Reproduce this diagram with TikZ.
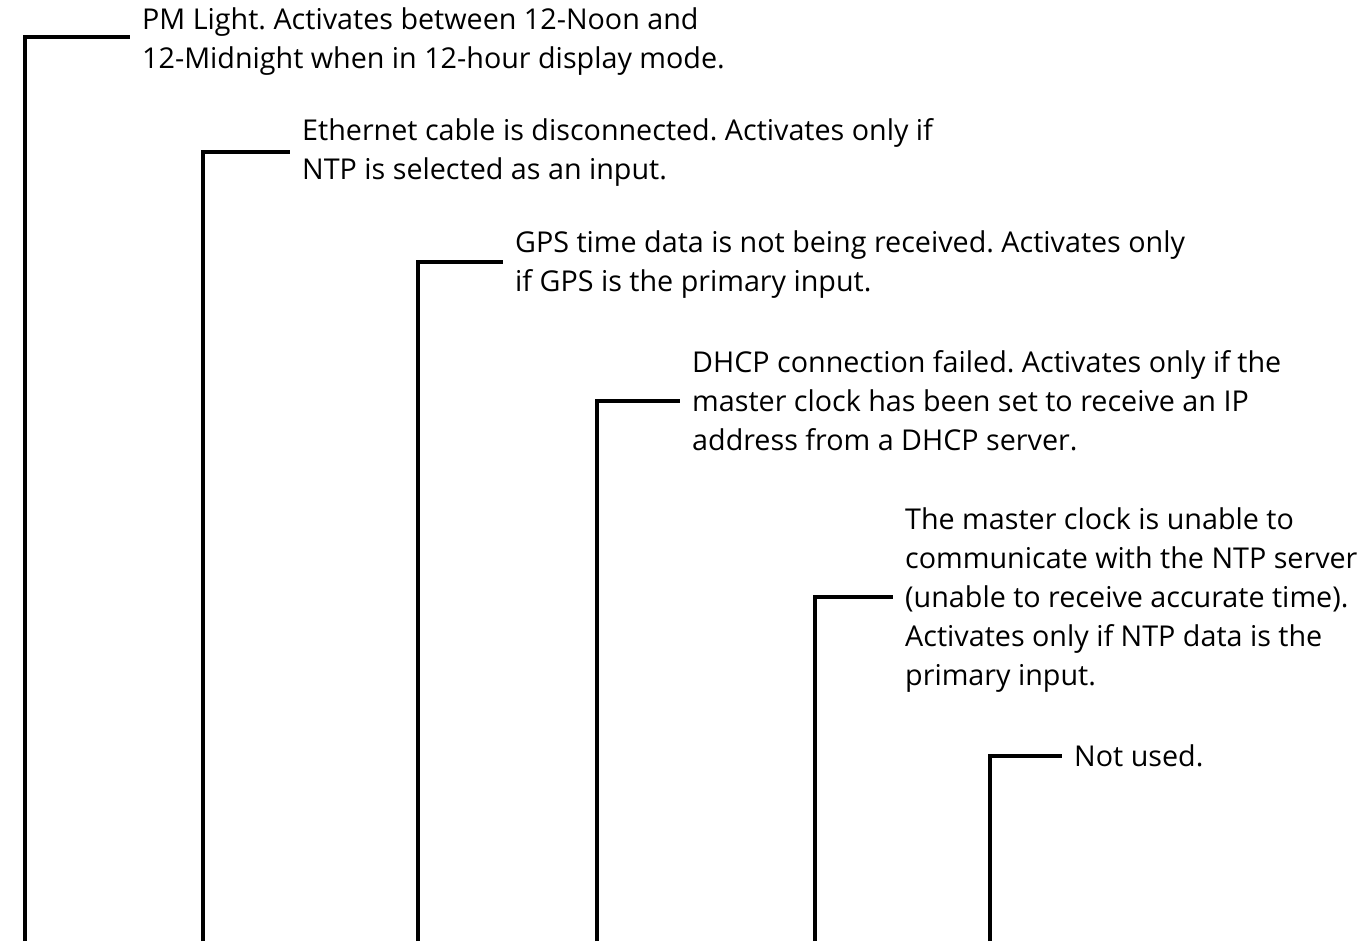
\documentclass[tikz,border=0pt]{standalone}
\usepackage{fontspec}
\setmainfont{Open Sans}
\begin{document}
\frenchspacing
\begin{tikzpicture}[x=1pt,y=-1pt,
  lbl/.style={anchor=west, inner xsep=12pt, inner ysep=0pt, align=left,
    font=\fontsize{28.7}{39}\selectfont\frenchspacing},
  conn/.style={line width=3.4pt}]
\useasboundingbox (0,0) rectangle (1372,942);
\node[lbl] (t1) at (130,42) {PM Light. Activates between 12-Noon and\\12-Midnight when in 12-hour display mode.};
\node[lbl] (t2) at (290,152) {Ethernet cable is disconnected. Activates only if\\NTP is selected as an input.};
\node[lbl] (t3) at (503,265) {GPS time data is not being received. Activates only\\if GPS is the primary input.};
\node[lbl] (t4) at (680,401) {DHCP connection failed. Activates only if the\\master clock has been set to receive an IP\\address from a DHCP server.};
\node[lbl] (t5) at (893,600) {The master clock is unable to\\communicate with the NTP server\\(unable to receive accurate time).\\Activates only if NTP data is the\\primary input.};
\node[lbl] (t6) at (1062,756) {Not used.};
\coordinate (b1) at (25,941);
\coordinate (b2) at (203,941);
\coordinate (b3) at (418,941);
\coordinate (b4) at (597,941);
\coordinate (b5) at (815,941);
\coordinate (b6) at (990,941);
\draw[conn] (b1) |- ([yshift=5pt]t1.west);
\draw[conn] (b2) |- (t2.west);
\draw[conn] (b3) |- ([yshift=3pt]t3.west);
\draw[conn] (b4) |- (t4.west);
\draw[conn] (b5) |- ([yshift=3pt]t5.west);
\draw[conn] (b6) |- (t6.west);
\end{tikzpicture}
\end{document}
